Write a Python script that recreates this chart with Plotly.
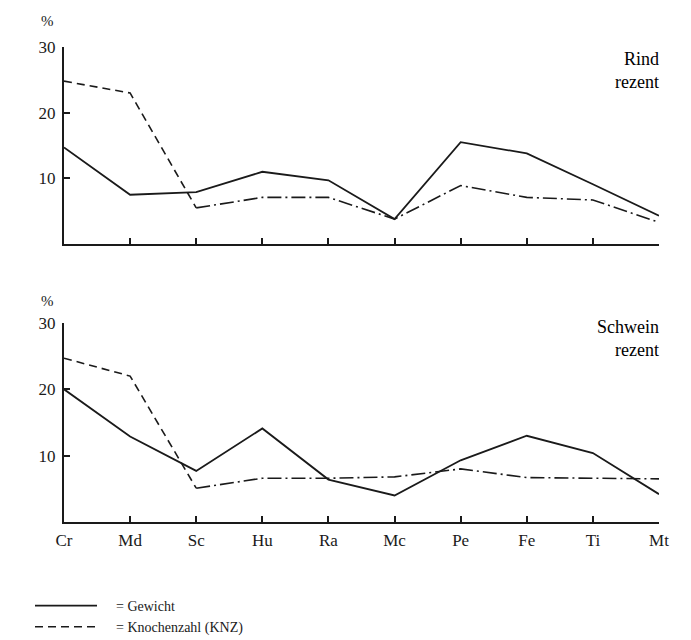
import plotly.graph_objects as go

categories = ["Cr", "Md", "Sc", "Hu", "Ra", "Mc", "Pe", "Fe", "Ti", "Mt"]
rind_gewicht = [14.7, 7.5, 7.9, 11.0, 9.7, 3.8, 15.5, 13.8, 9.1, 4.3]
rind_knz = [24.8, 23.0, 5.5, 7.1, 7.1, 3.8, 8.9, 7.1, 6.7, 3.3]
schwein_gewicht = [20.0, 12.9, 7.7, 14.1, 6.4, 4.0, 9.3, 13.0, 10.4, 4.2]
schwein_knz = [24.7, 22.0, 5.1, 6.6, 6.6, 6.8, 8.0, 6.7, 6.6, 6.5]
y_ticks = [10, 20, 30]
panel_titles = [["Rind", "rezent"], ["Schwein", "rezent"]]
legend_names = ["= Gewicht", "= Knochenzahl (KNZ)"]

FONT = "Liberation Serif, Times New Roman, serif"
INK = "#1a1a1a"
xs = list(range(len(categories)))

fig = go.Figure()

panels = [(rind_gewicht, rind_knz, "x", "y"), (schwein_gewicht, schwein_knz, "x2", "y2")]
for i, (gew, knz, xa, ya) in enumerate(panels):
    fig.add_trace(go.Scatter(x=xs, y=gew, mode="lines", xaxis=xa, yaxis=ya,
                             line=dict(color=INK, width=1.8),
                             name="\u2002\u2002" + legend_names[0],
                             showlegend=(i == 0), legendrank=1))
    fig.add_trace(go.Scatter(x=xs[:3], y=knz[:3], mode="lines", xaxis=xa, yaxis=ya,
                             line=dict(color=INK, width=1.6, dash="8px,5px"),
                             name="\u2002\u2002" + legend_names[1],
                             showlegend=(i == 0), legendrank=2))
    fig.add_trace(go.Scatter(x=xs[2:], y=knz[2:], mode="lines", xaxis=xa, yaxis=ya,
                             line=dict(color=INK, width=1.6, dash="14px,4px,2px,4px"),
                             showlegend=False))

xdom = [64 / 691, 659 / 691]
axis_common = dict(showline=True, linecolor=INK, linewidth=2, ticks="inside",
                   tickcolor=INK, ticklen=6, tickwidth=1.6, showgrid=False, zeroline=False,
                   tickfont=dict(family=FONT, size=17, color=INK))

fig.update_layout(
    width=691, height=640,
    margin=dict(l=0, r=0, t=0, b=0, autoexpand=False),
    paper_bgcolor="white", plot_bgcolor="white",
    font=dict(family=FONT, color=INK),
    xaxis=dict(domain=xdom, range=[0, 9], tickvals=xs, ticktext=[""] * len(xs),
               anchor="y", **axis_common),
    yaxis=dict(domain=[1 - 244 / 640, 1 - 47 / 640], range=[0, 30], tickvals=y_ticks,
               anchor="x", ticklabelstandoff=3, **axis_common),
    xaxis2=dict(domain=xdom, range=[0, 9], tickvals=xs, ticktext=categories,
                anchor="y2", ticklabelstandoff=2, **axis_common),
    yaxis2=dict(domain=[1 - 522 / 640, 1 - 323 / 640], range=[0, 30], tickvals=y_ticks,
                anchor="x2", ticklabelstandoff=3, **axis_common),
    showlegend=True,
    legend=dict(x=30 / 691, y=1 - 590 / 640, xanchor="left", yanchor="top",
                font=dict(family=FONT, size=14, color=INK), bgcolor="rgba(0,0,0,0)",
                itemwidth=62, tracegroupgap=0),
)

title_tops = [47, 315]
for t, ytop in zip(panel_titles, title_tops):
    fig.add_annotation(x=661 / 691, y=1 - ytop / 640, xref="paper", yref="paper",
                       text=t[0] + "<br>" + t[1], showarrow=False, align="right",
                       xanchor="right", yanchor="top",
                       font=dict(family=FONT, size=18, color="#000"))
for ytop in [11, 291]:
    fig.add_annotation(x=39 / 691, y=1 - ytop / 640, xref="paper", yref="paper",
                       text="%", showarrow=False, xanchor="left", yanchor="top",
                       font=dict(family=FONT, size=15, color=INK))

fig.write_html("out.html")
